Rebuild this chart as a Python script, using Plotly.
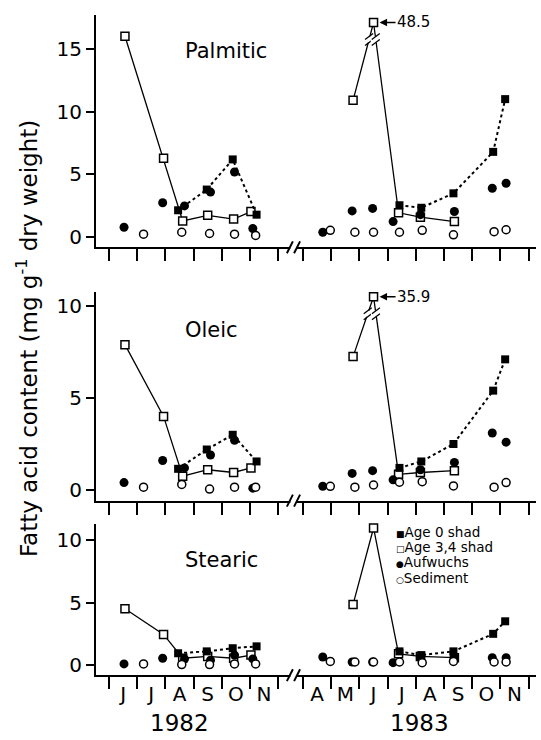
import calendar
import plotly.graph_objects as go

# ---------------- data ----------------
ACIDS = ["Palmitic", "Oleic", "Stearic"]

AGE0_DATES = ["1982-08-15", "1982-09-15", "1982-10-13", "1982-11-08",
              "1983-07-14", "1983-08-07", "1983-09-11", "1983-10-24", "1983-11-06"]
AGE34_DATES = ["1982-06-18", "1982-07-30", "1982-08-20", "1982-09-16", "1982-10-14", "1982-11-02",
               "1983-05-25", "1983-06-16", "1983-07-13", "1983-08-06", "1983-09-12"]
AUFWUCHS_DATES = ["1982-06-17", "1982-07-29", "1982-08-22", "1982-09-19", "1982-10-15", "1982-11-04",
                  "1983-04-22", "1983-05-24", "1983-06-15", "1983-07-07", "1983-08-06", "1983-09-12",
                  "1983-10-23", "1983-11-07"]
SEDIMENT_DATES = ["1982-07-08", "1982-08-19", "1982-09-18", "1982-10-15", "1982-11-07",
                  "1983-04-30", "1983-05-27", "1983-06-16", "1983-07-14", "1983-08-08", "1983-09-11",
                  "1983-10-25", "1983-11-07"]

PALMITIC_AGE0 = [2.15, 3.8, 6.2, 1.8, 2.55, 2.35, 3.5, 6.8, 11.0]
PALMITIC_AGE34 = [16.0, 6.3, 1.3, 1.75, 1.45, 2.05, 10.9, 48.5, 1.95, 1.6, 1.25]
PALMITIC_AUFWUCHS = [0.8, 2.75, 2.5, 3.6, 5.2, 0.7, 0.4, 2.1, 2.3, 1.25, 1.8, 2.05, 3.9, 4.3]
PALMITIC_SEDIMENT = [0.25, 0.4, 0.3, 0.25, 0.15, 0.55, 0.4, 0.4, 0.4, 0.55, 0.2, 0.45, 0.6]

OLEIC_AGE0 = [1.15, 2.2, 3.0, 1.55, 1.2, 1.55, 2.5, 5.4, 7.1]
OLEIC_AGE34 = [7.9, 4.0, 0.75, 1.1, 0.95, 1.2, 7.25, 35.9, 0.85, 0.95, 1.05]
OLEIC_AUFWUCHS = [0.4, 1.6, 1.2, 1.9, 2.7, 0.1, 0.2, 0.9, 1.05, 0.55, 1.1, 1.5, 3.1, 2.6]
OLEIC_SEDIMENT = [0.15, 0.3, 0.05, 0.15, 0.15, 0.2, 0.15, 0.27, 0.42, 0.45, 0.22, 0.15, 0.4]

STEARIC_AGE0 = [0.95, 1.1, 1.35, 1.5, 1.1, 0.8, 1.1, 2.5, 3.5]
STEARIC_AGE34 = [4.5, 2.45, 0.55, 0.7, 0.55, 0.8, 4.85, 10.95, 0.9, 0.7, 0.6]
STEARIC_AUFWUCHS = [0.1, 0.55, 0.5, 0.4, 0.8, 0.5, 0.65, 0.25, 0.25, 0.2, 0.6, 0.6, 0.6, 0.6]
STEARIC_SEDIMENT = [0.1, 0.05, 0.05, 0.1, 0.1, 0.3, 0.25, 0.25, 0.25, 0.2, 0.3, 0.25, 0.25]

MONTHS_1982 = ["J", "J", "A", "S", "O", "N"]
MONTHS_1983 = ["A", "M", "J", "J", "A", "S", "O", "N"]
YEARS = ["1982", "1983"]
Y_TICKS = [[0, 5, 10, 15], [0, 5, 10], [0, 5, 10]]
LEGEND_NAMES = ["Age 0 shad", "Age 3,4 shad", "Aufwuchs", "Sediment"]
Y_TITLE = "Fatty acid content (mg g<sup>-1</sup> dry weight)"

VALUES = {
    "Palmitic": (PALMITIC_AGE0, PALMITIC_AGE34, PALMITIC_AUFWUCHS, PALMITIC_SEDIMENT),
    "Oleic": (OLEIC_AGE0, OLEIC_AGE34, OLEIC_AUFWUCHS, OLEIC_SEDIMENT),
    "Stearic": (STEARIC_AGE0, STEARIC_AGE34, STEARIC_AUFWUCHS, STEARIC_SEDIMENT),
}

# ---------------- layout constants ----------------
W, H = 541, 740
FONT = "DejaVu Sans"
APR83 = 6.88                     # axis position where April 1983 starts (after the break)
X_RANGE = [-0.46, 15.14]
X_DOM_PX = (96, 536)
Y_DOM_PX = [(15, 248), (293, 502), (525, 677)]
Y_RANGES = [[-0.8, 17.7], [-0.58, 10.75], [-0.8, 11.3]]
CAPS = [17.1, 10.5, None]


def month_pos(d):
    y, m, day = map(int, d.split("-"))
    base = (m - 6) if y == 1982 else APR83 + (m - 4)
    return base + (day - 1) / calendar.monthrange(y, m)[1]


def fx(px):
    return px / W


def fy(py):
    return 1 - py / H


PPU_X = (X_DOM_PX[1] - X_DOM_PX[0]) / (X_RANGE[1] - X_RANGE[0])


def x_to_px(x):
    return X_DOM_PX[0] + (x - X_RANGE[0]) * PPU_X


bounds = list(range(0, len(MONTHS_1982) + 1)) + [APR83 + k for k in range(len(MONTHS_1983) + 1)]
mids = [k + 0.5 for k in range(len(MONTHS_1982))] + [APR83 + k + 0.5 for k in range(len(MONTHS_1983))]
mlabels = MONTHS_1982 + MONTHS_1983

fig = go.Figure()
shapes = []
annotations = []

for i, acid in enumerate(ACIDS):
    sfx = "" if i == 0 else str(i + 1)
    xa, ya = "x" + sfx, "y" + sfx
    age0, age34, auf, sed = VALUES[acid]
    cap = CAPS[i]
    top_px, bot_px = Y_DOM_PX[i]
    ppu_y = (bot_px - top_px) / (Y_RANGES[i][1] - Y_RANGES[i][0])

    def shown(v):
        return min(v, cap) if cap is not None else v

    def split_years(dates, vals):
        xs, ys = [], []
        prev = None
        for d, v in zip(dates, vals):
            yr = d[:4]
            if prev is not None and yr != prev:
                xs.append(None)
                ys.append(None)
            xs.append(month_pos(d))
            ys.append(shown(v))
            prev = yr
        return xs, ys

    x34, y34 = split_years(AGE34_DATES, age34)
    fig.add_trace(go.Scatter(x=x34, y=y34, mode="lines+markers", xaxis=xa, yaxis=ya,
                             line=dict(color="black", width=1.3),
                             marker=dict(symbol="square", size=8, color="white",
                                         line=dict(color="black", width=1.5)),
                             showlegend=False, cliponaxis=False))
    x0, y0 = split_years(AGE0_DATES, age0)
    fig.add_trace(go.Scatter(x=x0, y=y0, mode="lines+markers", xaxis=xa, yaxis=ya,
                             line=dict(color="black", width=2, dash="dot"),
                             marker=dict(symbol="square", size=8, color="black"),
                             showlegend=False, cliponaxis=False))
    fig.add_trace(go.Scatter(x=[month_pos(d) for d in AUFWUCHS_DATES], y=auf, mode="markers",
                             xaxis=xa, yaxis=ya, marker=dict(symbol="circle", size=9, color="black"),
                             showlegend=False, cliponaxis=False))
    fig.add_trace(go.Scatter(x=[month_pos(d) for d in SEDIMENT_DATES], y=sed, mode="markers",
                             xaxis=xa, yaxis=ya,
                             marker=dict(symbol="circle", size=8, color="white",
                                         line=dict(color="black", width=1.5)),
                             showlegend=False, cliponaxis=False))

    # off-scale value: arrow label + broken lines
    if cap is not None:
        for k, v in enumerate(age34):
            if v > cap:
                xk = month_pos(AGE34_DATES[k])
                annotations.append(dict(x=xk, y=cap, xref=xa, yref=ya, text=str(v),
                                        showarrow=True, ax=40, ay=0, arrowhead=2, arrowsize=1,
                                        arrowwidth=1.5, arrowcolor="black", standoff=6,
                                        font=dict(family=FONT, size=15, color="black")))
                yb = cap - 17 / ppu_y
                for n in (k - 1, k + 1):
                    xn, vn = month_pos(AGE34_DATES[n]), age34[n]
                    xc = xn + (yb - vn) / (cap - vn) * (xk - xn)
                    shapes.append(dict(type="rect", xref=xa, yref=ya, layer="above",
                                       x0=xc - 5 / PPU_X, x1=xc + 5 / PPU_X,
                                       y0=yb - 3 / ppu_y, y1=yb + 3 / ppu_y,
                                       fillcolor="white", line=dict(width=0)))
                    for dy in (-3, 3):
                        shapes.append(dict(type="line", xref=xa, yref=ya, layer="above",
                                           x0=xc - 4 / PPU_X, y0=yb + (dy - 3) / ppu_y,
                                           x1=xc + 4 / PPU_X, y1=yb + (dy + 3) / ppu_y,
                                           line=dict(color="black", width=1.3)))

    axis_font = dict(family=FONT, size=20, color="black")
    fig.update_layout(**{
        "xaxis" + sfx: dict(domain=[fx(X_DOM_PX[0]), fx(X_DOM_PX[1])], range=X_RANGE, anchor=ya,
                            showline=True, linewidth=2, linecolor="black", showgrid=False,
                            zeroline=False, tickmode="array", tickvals=mids, ticktext=mlabels,
                            ticks="", showticklabels=(i == 2), tickfont=axis_font,
                            ticklabelstandoff=0,
                            minor=dict(tickmode="array", tickvals=bounds, ticks="outside",
                                       ticklen=12, tickwidth=2, tickcolor="black",
                                       showgrid=False)),
        "yaxis" + sfx: dict(domain=[fy(bot_px), fy(top_px)], range=Y_RANGES[i], anchor=xa,
                            showline=True, linewidth=2, linecolor="black", showgrid=False,
                            zeroline=False, tickmode="array", tickvals=Y_TICKS[i],
                            ticks="outside", ticklen=8, tickwidth=2, tickcolor="black",
                            tickfont=axis_font),
    })

    # axis break marks on the x axis
    gl = x_to_px(6 + 0.47 * (APR83 - 6))
    gr = x_to_px(6 + 0.76 * (APR83 - 6))
    shapes.append(dict(type="rect", xref="paper", yref="paper", layer="above",
                       x0=fx(gl + 0.5), x1=fx(gr - 0.5), y0=fy(bot_px + 3), y1=fy(bot_px - 3),
                       fillcolor="white", line=dict(width=0)))
    for g in (gl, gr):
        shapes.append(dict(type="line", xref="paper", yref="paper", layer="above",
                           x0=fx(g - 3), y0=fy(bot_px + 6), x1=fx(g + 3), y1=fy(bot_px - 6),
                           line=dict(color="black", width=2)))

    # panel title
    title_py = [51, 331, 562][i]
    annotations.append(dict(x=fx(183), y=fy(title_py), xref="paper", yref="paper", text=acid,
                            showarrow=False, xanchor="left", yanchor="middle",
                            font=dict(family=FONT, size=21, color="black")))

# year labels
annotations.append(dict(x=fx(x_to_px(len(MONTHS_1982) / 2) - 14), y=fy(725), xref="paper", yref="paper",
                        text=YEARS[0], showarrow=False, xanchor="center", yanchor="middle",
                        font=dict(family=FONT, size=23, color="black")))
annotations.append(dict(x=fx(x_to_px(APR83 + len(MONTHS_1983) / 2) + 4), y=fy(725), xref="paper",
                        yref="paper", text=YEARS[1], showarrow=False, xanchor="center",
                        yanchor="middle", font=dict(family=FONT, size=23, color="black")))

# y-axis title
annotations.append(dict(x=fx(27), y=fy(340), xref="paper", yref="paper", text=Y_TITLE,
                        showarrow=False, textangle=-90, xanchor="center", yanchor="middle",
                        font=dict(family=FONT, size=23, color="black")))

# legend (symbol glyphs + names)
LEG_SYMBOLS = ["\u25a0", "\u25a1", "\u25cf", "\u25cb"]
for k, (sym, name) in enumerate(zip(LEG_SYMBOLS, LEGEND_NAMES)):
    annotations.append(dict(x=fx(394), y=fy(533 + 15.5 * k), xref="paper", yref="paper",
                            text="<span style='font-family:DejaVu Sans;font-size:9px;color:black'>"
                                 + sym + "</span>" + name,
                            showarrow=False, xanchor="left", yanchor="middle",
                            font=dict(family=FONT, size=13.5, color="black")))

fig.update_layout(width=W, height=H, margin=dict(l=0, r=0, t=0, b=0),
                  paper_bgcolor="white", plot_bgcolor="white", showlegend=False,
                  shapes=shapes, annotations=annotations,
                  font=dict(family=FONT, color="black"))

fig.write_html("out.html")
